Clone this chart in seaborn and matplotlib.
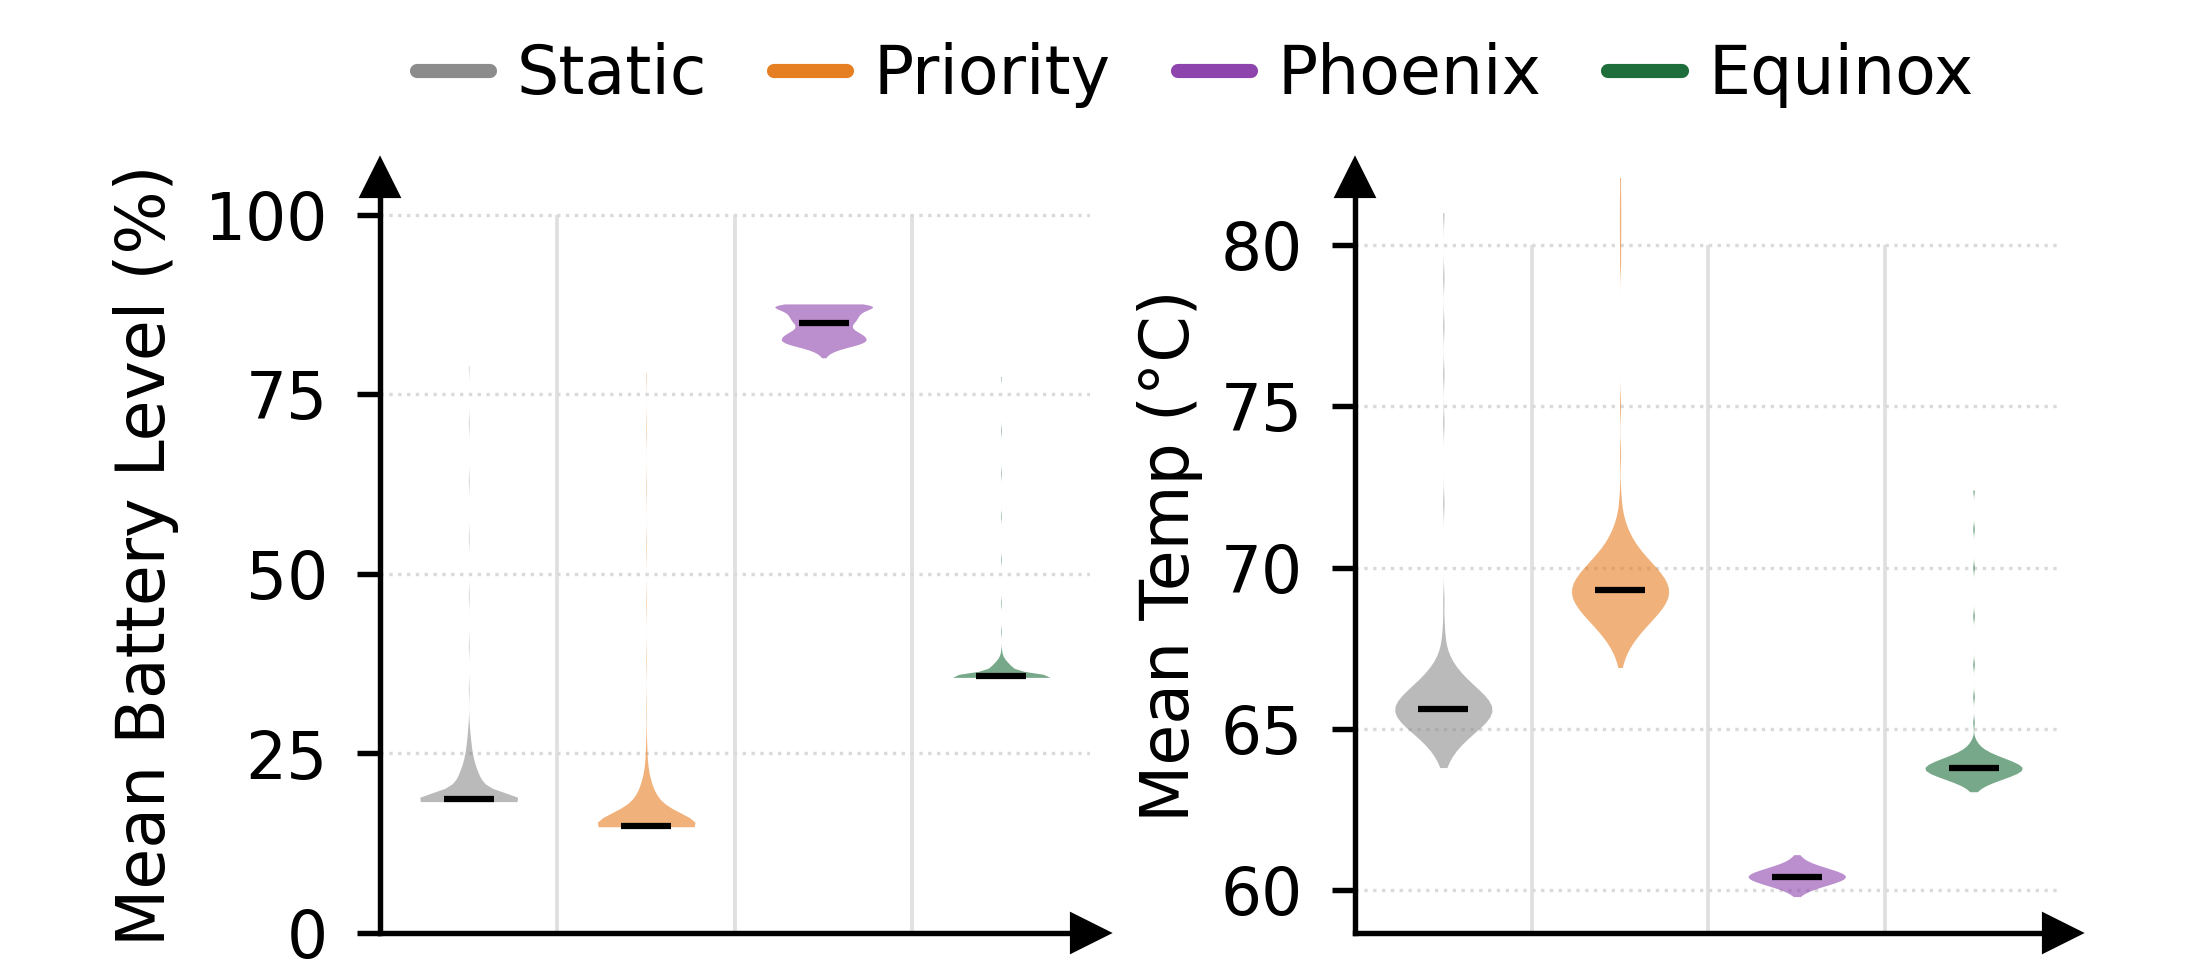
import numpy as np
import pandas as pd
import seaborn as sns
import matplotlib.pyplot as plt
from matplotlib.lines import Line2D

methods = ["Static", "Priority", "Phoenix", "Equinox"]
colors = ["#8c8c8c", "#e67e22", "#8e44ad", "#1e6e3c"]

# mean battery level (%) per run: value -> number of runs
bat_static_v = [18.3, 18.6, 19.2, 19.8, 20.5, 21.3, 22.2, 23.2, 24.3, 25.5, 26.8, 28, 29.2,
                34, 40, 47, 55, 63, 71, 79]
bat_static_n = [80, 70, 22, 20, 18, 16, 14, 11, 8, 6, 4, 2, 1, 1, 1, 1, 1, 1, 1, 1]
bat_prio_v = [14.8, 14.95, 15.5, 16.3, 17.1, 18.0, 19.0, 20.0, 21.0, 22.0, 23.0, 24.2,
              25.5, 26.5, 31, 38, 46, 54, 62, 70, 78]
bat_prio_n = [100, 60, 24, 22, 19, 15, 11, 8, 5, 3, 2, 1, 1, 1, 1, 1, 1, 1, 1, 1, 1]
bat_phoe_v = [80.1, 80.6, 81.2, 81.8, 82.3, 82.8, 83.3, 83.8, 84.4, 85.0, 85.5, 86.0,
              86.5, 87.0, 87.4, 87.6]
bat_phoe_n = [1, 3, 10, 22, 28, 28, 25, 22, 21, 21, 21, 22, 24, 27, 28, 18]
bat_equi_v = [35.6, 35.75, 36.1, 36.5, 36.9, 37.3, 37.7, 38.1, 38.6, 39.3, 42, 46, 52, 58,
              64, 70, 77.5]
bat_equi_n = [80, 60, 16, 15, 13, 10, 7, 4, 2, 1, 1, 1, 1, 1, 1, 1, 1]

# mean temperature (degC) per run
tmp_static_v = [63.8, 64.1, 64.4, 64.7, 65.0, 65.3, 65.6, 65.9, 66.2, 66.5, 66.8, 67.1,
                67.4, 67.8, 68.3, 69, 72, 74.5, 76, 77.5, 79, 81]
tmp_static_n = [2, 5, 10, 17, 26, 34, 38, 34, 26, 18, 11, 6, 3, 2, 1, 1, 1, 1, 1, 1, 1, 1]
tmp_prio_v = [66.9, 67.2, 67.5, 67.8, 68.1, 68.4, 68.7, 69.0, 69.3, 69.6, 69.9, 70.2,
              70.5, 70.8, 71.1, 71.4, 71.8, 72.3, 73.5, 75, 79.5, 80.2, 80.8, 81.4, 82.2]
tmp_prio_n = [1, 3, 6, 11, 17, 24, 31, 36, 38, 35, 29, 22, 15, 10, 6, 4, 2, 1, 1, 1, 1,
              1, 1, 1, 1]
tmp_phoe_v = [59.8, 59.9, 60.0, 60.1, 60.2, 60.3, 60.4, 60.5, 60.6, 60.7, 60.8, 60.9,
              61.0, 61.1]
tmp_phoe_n = [2, 5, 10, 17, 25, 32, 36, 34, 28, 20, 13, 7, 4, 2]
tmp_equi_v = [63.05, 63.2, 63.35, 63.5, 63.65, 63.8, 63.95, 64.1, 64.25, 64.4, 64.55,
              64.7, 65.2, 66, 67, 68.5, 70, 71.2, 72.4]
tmp_equi_n = [2, 6, 14, 24, 33, 36, 30, 21, 12, 6, 3, 1, 1, 1, 1, 1, 1, 1, 1]

battery = [(bat_static_v, bat_static_n), (bat_prio_v, bat_prio_n),
           (bat_phoe_v, bat_phoe_n), (bat_equi_v, bat_equi_n)]
temp = [(tmp_static_v, tmp_static_n), (tmp_prio_v, tmp_prio_n),
        (tmp_phoe_v, tmp_phoe_n), (tmp_equi_v, tmp_equi_n)]

sns.set_style("ticks")
plt.rcParams["font.family"] = ["DejaVu Sans"]
for k in ["text.color", "axes.labelcolor", "xtick.color", "ytick.color"]:
    plt.rcParams[k] = "black"

fig = plt.figure(figsize=(7.35, 3.2567), dpi=300)
ax1 = fig.add_axes([0.1723, 0.045, 0.322, 0.7733])
ax2 = fig.add_axes([0.6145, 0.045, 0.3206, 0.7733])

# kde bandwidth (in data units) for each violin
panels = [
    (ax1, battery, "Mean Battery Level (%)", [0, 25, 50, 75, 100], (0, 105.2),
     [0.9, 1.5, 0.45, 0.45], -0.283),
    (ax2, temp, "Mean Temp (°C)", [60, 65, 70, 75, 80], (58.67, 82.09),
     [0.28, 0.33, 0.09, 0.11], -0.215),
]

for ax, groups, ylabel, yticks, ylim, bws, labx in panels:
    rows = []
    for i, (m, (vals, counts)) in enumerate(zip(methods, groups)):
        v = np.repeat(vals, counts)
        rows.append(pd.DataFrame({"method": m, "value": v}))
        sns.violinplot(x=[m] * len(v), y=v, order=methods, color=colors[i],
                       inner=None, cut=0, density_norm="width", width=0.55,
                       linewidth=0, saturation=1, alpha=0.6,
                       bw_method=bws[i] / np.std(v, ddof=1), ax=ax)
    df = pd.concat(rows)
    # median marks
    sns.pointplot(data=df, x="method", y="value", order=methods, estimator="median",
                  errorbar=None, color="black", markers="_", linestyles="none",
                  markersize=12, markeredgewidth=1.5, ax=ax)

    ax.set_xlim(-0.5, len(methods) - 0.5)
    ax.set_ylim(*ylim)
    ax.set_yticks(yticks)
    ax.set_xticks([])
    ax.set_xlabel("")
    ax.set_ylabel(ylabel, fontsize=16)
    ax.yaxis.set_label_coords(labx, 0.5)
    ax.tick_params(axis="y", labelsize=15.5, length=5.5, width=1.3, pad=7)
    ax.grid(axis="y", linestyle=":", color="#dadada", linewidth=0.8)
    ax.vlines(np.arange(len(methods) - 1) + 0.5, ylim[0], yticks[-1],
              color="#e0e0e0", linewidth=0.9, zorder=0)
    ax.set_axisbelow(True)
    sns.despine(ax=ax)
    for s in ["left", "bottom"]:
        ax.spines[s].set_linewidth(1.3)
        ax.spines[s].set_color("black")
    ax.plot(1, 0, ">k", ms=8.5, transform=ax.transAxes, clip_on=False)
    ax.plot(0, 1, "^k", ms=8.5, transform=ax.transAxes, clip_on=False)

handles = [Line2D([0], [0], color=c, lw=3.4, solid_capstyle="round") for c in colors]
fig.legend(handles, methods, loc="center", bbox_to_anchor=(0.542, 0.923), ncol=4,
           frameon=False, fontsize=16, handlelength=1.1, handletextpad=0.4,
           columnspacing=1.0)

fig.savefig("out.png", dpi=300)
